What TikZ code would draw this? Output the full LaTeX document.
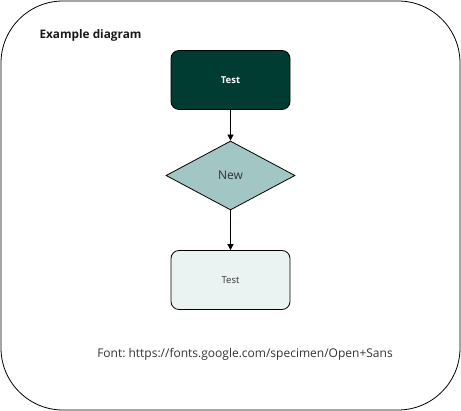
\documentclass[tikz,border=0pt]{standalone}
\usepackage{fontspec}
\setmainfont{Open Sans}
\frenchspacing
\usetikzlibrary{shapes.geometric,arrows.meta}
\definecolor{darkg}{HTML}{003C32}
\definecolor{midg}{HTML}{A2C6C4}
\definecolor{lightg}{HTML}{EBF3F2}
\definecolor{txtg}{HTML}{333333}
\tikzset{
  box/.style={draw=black, rounded corners=8pt, minimum width=119pt, minimum height=59pt, line width=0.8pt, inner sep=0pt},
  conn/.style={draw=black, line width=0.8pt, -{Triangle[length=6pt,width=6pt]}},
}
\begin{document}
\begin{tikzpicture}[x=1pt,y=-1pt]
\useasboundingbox (0,0) rectangle (461,411);
\node[draw=black, line width=0.8pt, rounded corners=62pt, minimum width=459pt, minimum height=409pt, inner sep=0pt] (frame) at (230.5,205.5) {};
\node[anchor=west, font=\bfseries\fontsize{11.8}{14}\selectfont, text=black!90] (title) at (36,35) {Example diagram};
\node[box, fill=darkg, text=white, font=\bfseries\fontsize{9.5}{11}\selectfont] (t1) at (230.5,80) {Test};
\node[diamond, draw=black, line width=0.8pt, fill=midg, minimum width=129pt, minimum height=69pt, aspect=1.87, inner sep=0pt, text=txtg, font=\fontsize{12}{14}\selectfont] (d) at (230.5,175.5) {New};
\node[box, fill=lightg, text=txtg, font=\fontsize{9.5}{11}\selectfont] (t2) at (230.5,280) {Test};
\node[font=\fontsize{12}{14}\selectfont, text=txtg] (note) at (245,354) {Font: https://fonts.google.com/specimen/Open+Sans};
\draw[conn] (t1) -- (d);
\draw[conn] (d) -- (t2);
\end{tikzpicture}
\end{document}
